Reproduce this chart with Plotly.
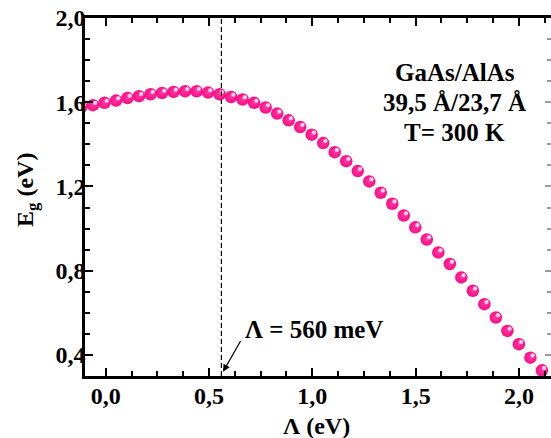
import plotly.graph_objects as go

# Data
lam = [-0.117 + 0.0557 * k for k in range(41)]  # Λ (eV), evenly spaced sample points
eg = [1.578, 1.586, 1.597, 1.608, 1.620, 1.629, 1.638, 1.644, 1.649, 1.652,
      1.652, 1.646, 1.638, 1.625, 1.613, 1.597, 1.575, 1.546, 1.514, 1.482,
      1.446, 1.406, 1.363, 1.320, 1.273, 1.224, 1.170, 1.118, 1.062, 1.006,
      0.948, 0.887, 0.832, 0.768, 0.705, 0.641, 0.578, 0.514, 0.451, 0.387,
      0.327]
lam_mark = 0.56
info_lines = ["GaAs/AlAs", "39,5 Å/23,7 Å", "T= 300 K"]
mark_label = "Λ = 560 meV"
x_title = "Λ (eV)"
y_title = "E<sub>g</sub> (eV)"

XR = [-0.1, 2.155]
YR = [0.3, 2.0]
W, H = 551, 438
ML, MR, MT, MB = 85, 0, 18, 62
PW, PH = W - ML - MR, H - MT - MB
pxx = PW / (XR[1] - XR[0])
pxy = PH / (YR[1] - YR[0])
# highlight offset (pixels) for the sphere look
dx, dy = 2.2, 2.2
XR3 = [XR[0] - dx / pxx, XR[1] - dx / pxx]
YR3 = [YR[0] - dy / pxy, YR[1] - dy / pxy]

FONT = "Liberation Serif"
pink = "#ff0a86"

fig = go.Figure()
fig.add_trace(go.Scatter(x=lam, y=eg, mode="markers",
                         marker=dict(size=12.5, color=pink,
                                     gradient=dict(type="radial", color="#ff3aa0"),
                                     line=dict(width=0)),
                         hoverinfo="skip", showlegend=False))
fig.add_trace(go.Scatter(x=lam, y=eg, mode="markers", xaxis="x3", yaxis="y3",
                         marker=dict(size=4.5, color="#ff9fd0",
                                     gradient=dict(type="radial", color="#ffffff"),
                                     line=dict(width=0)),
                         hoverinfo="skip", showlegend=False))
fig.add_trace(go.Scatter(x=[None], y=[None], yaxis="y2", showlegend=False,
                         hoverinfo="skip"))

fig.add_shape(type="line", x0=lam_mark, x1=lam_mark, y0=0, y1=1,
              xref="x", yref="paper",
              line=dict(color="black", width=1.2, dash="5px,3px"))

for i, t in enumerate(info_lines):
    fig.add_annotation(x=1.69, y=1.74 - 0.143 * i, xref="x", yref="y",
                       text="<b>%s</b>" % t, showarrow=False,
                       font=dict(family=FONT, size=25, color="black"))

fig.add_annotation(x=0.663, y=0.523, xref="x", yref="y", text="<b>%s</b>" % mark_label,
                   showarrow=False, xanchor="left", yanchor="middle",
                   font=dict(family=FONT, size=25, color="black"))
fig.add_annotation(x=0.568, y=0.320, ax=0.657, ay=0.473, xref="x", yref="y",
                   axref="x", ayref="y", text="", showarrow=True,
                   arrowhead=2, arrowsize=1.2, arrowwidth=1.2, arrowcolor="black",
                   standoff=0, startstandoff=0)

# axis titles
fig.add_annotation(x=(316 - ML) / PW, y=1 - (426 - MT) / PH, xref="paper", yref="paper",
                   xanchor="center", yanchor="middle",
                   text="<b>%s</b>" % x_title, showarrow=False,
                   font=dict(family=FONT, size=24, color="black"))
fig.add_annotation(x=(27 - ML) / PW, y=1 - (190 - MT) / PH, xref="paper", yref="paper",
                   xanchor="center", yanchor="middle",
                   text="<b>%s</b>" % y_title, showarrow=False, textangle=-90,
                   font=dict(family=FONT, size=24, color="black"))

tickfont = dict(family=FONT, size=24, color="black", weight="bold")
fig.update_layout(
    width=W, height=H,
    margin=dict(l=ML, r=MR, t=MT, b=MB, autoexpand=False),
    paper_bgcolor="white", plot_bgcolor="white",
    separators=", ",
    xaxis=dict(range=XR, showgrid=False, zeroline=False, automargin=False,
               showline=True, linecolor="black", linewidth=2.5, mirror="ticks",
               ticks="inside", ticklen=8, tickwidth=2, tickcolor="black",
               tick0=0, dtick=0.5, tickformat=".1f", ticklabelstandoff=-4,
               minor=dict(ticks="inside", ticklen=5, tickwidth=2, dtick=0.125,
                          tick0=0, tickcolor="black", showgrid=False),
               tickfont=tickfont),
    yaxis=dict(range=YR, showgrid=False, zeroline=False, automargin=False,
               showline=True, linecolor="black", linewidth=2.5, mirror=False,
               ticks="inside", ticklen=8, tickwidth=2, tickcolor="black",
               tick0=0.4, dtick=0.4, tickformat=".1f", ticklabelstandoff=-8,
               minor=dict(ticks="inside", ticklen=5, tickwidth=2, dtick=0.1,
                          tick0=0, tickcolor="black", showgrid=False),
               tickfont=tickfont),
    yaxis2=dict(range=YR, overlaying="y", side="right", showgrid=False,
                zeroline=False, showline=False, showticklabels=False,
                automargin=False,
                ticks="inside", ticklen=6, tickwidth=1.5, tickcolor="#999999",
                tick0=0.4, dtick=0.4,
                minor=dict(ticks="inside", ticklen=4, tickwidth=1.5, dtick=0.1,
                           tick0=0, tickcolor="#999999")),
    xaxis3=dict(range=XR3, overlaying="x", visible=False),
    yaxis3=dict(range=YR3, overlaying="y", visible=False),
)

fig.write_html("out.html", config={"displayModeBar": False},
               post_script="document.body.style.margin='0';document.body.style.padding='0';document.body.style.overflow='hidden';")
